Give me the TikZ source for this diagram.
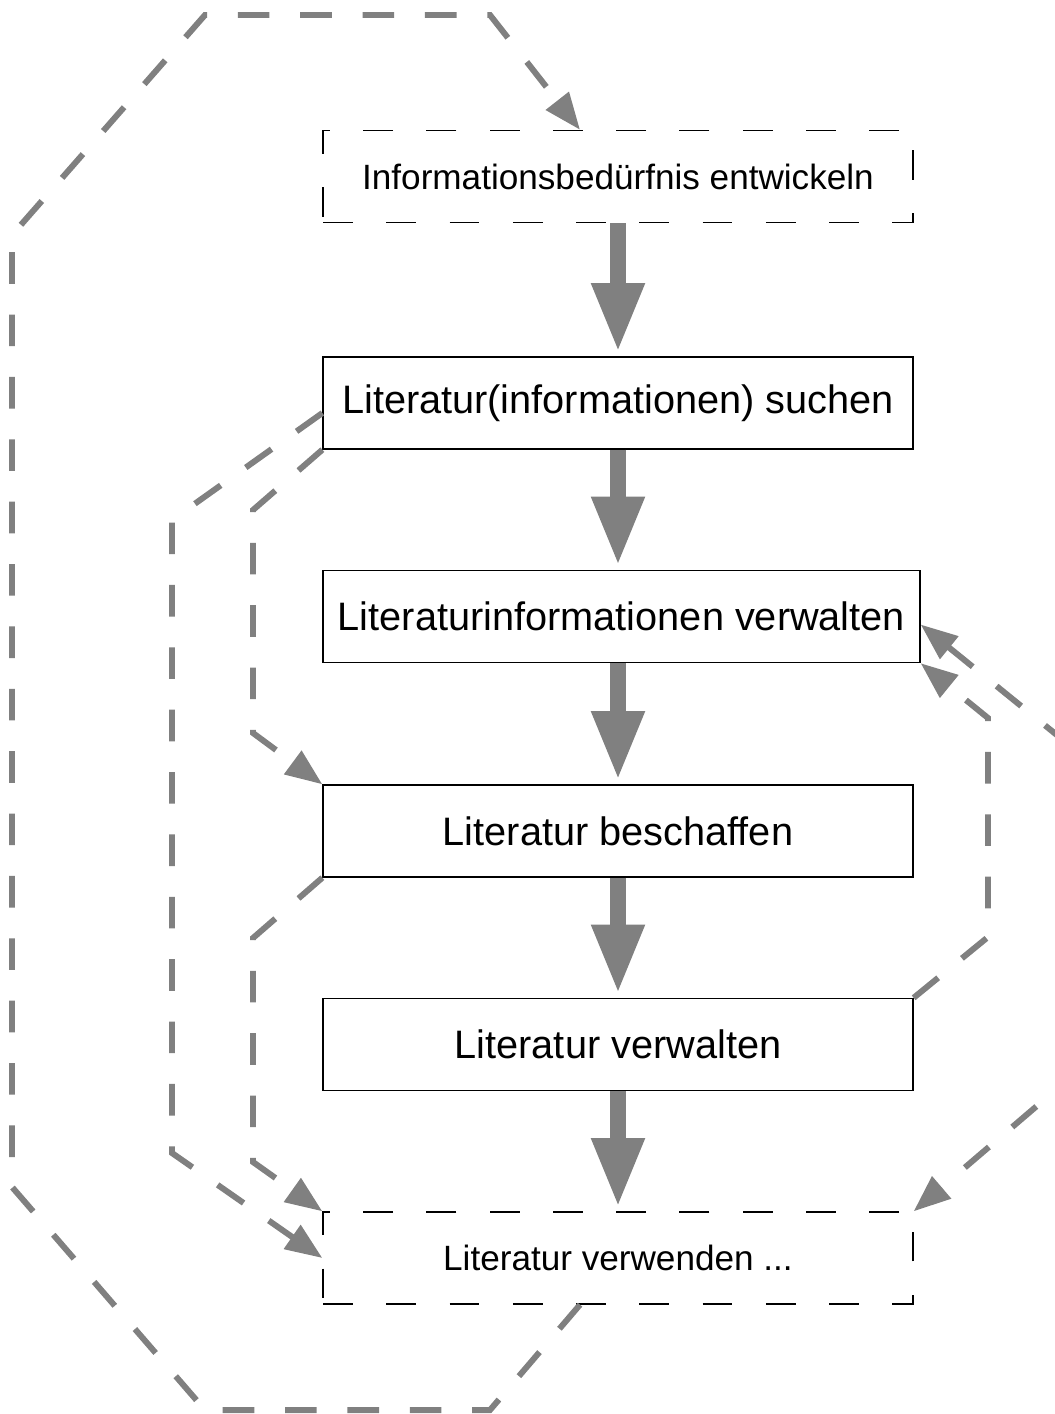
\documentclass[tikz,border=0pt]{standalone}
\usepackage{fontspec}
\setmainfont{Liberation Sans}
\usetikzlibrary{arrows.meta,calc}
\definecolor{flowgray}{RGB}{128,128,128}
\begin{document}
\begin{tikzpicture}[x=0.02cm,y=-0.02cm,
  box/.style={draw=black,line width=0.8pt,minimum width=11.8cm,minimum height=1.84cm,inner sep=0pt,font=\fontsize{22.6}{26}\selectfont},
  dbox/.style={box,dash pattern=on 17pt off 19pt,font=\fontsize{20}{24}\selectfont},
  flow/.style={draw=flowgray,line width=9.6pt,-{Triangle[width=27.8pt,length=39.7pt]},shorten >=2pt},
  loopline/.style={draw=flowgray,line width=3.4pt,dash pattern=on 18pt off 17.5pt,-{Triangle[width=16pt,length=21pt]}},
  loopboth/.style={loopline,{Triangle[width=16pt,length=21pt]}-{Triangle[width=16pt,length=21pt]}},
]
\useasboundingbox (0,0) rectangle (1055,1414);
\clip (0,0) rectangle (1055,1414);

\node[dbox] (b1) at (618,176.5) {Informationsbedürfnis entwickeln};
\node[box] (b2) at (618,403) {Literatur(informationen) suchen};
\node[box,minimum width=11.94cm] (b3) at (621.5,616.5) {Literaturinformationen verwalten};
\node[box] (b4) at (618,831) {Literatur beschaffen};
\node[box] (b5) at (618,1044.5) {Literatur verwalten};
\node[dbox] (b6) at (618,1258) {Literatur verwenden ...};

% main flow
\draw[flow] (b1.south) -- (b2.north);
\draw[flow] (b2.south) -- (b2.south |- b3.north);
\draw[flow] (b4.north |- b3.south) -- (b4.north);
\draw[flow] (b4.south) -- (b5.north);
\draw[flow] (b5.south) -- (b6.north);

% feedback loops
\draw[loopline] ($(b6.south)+(-38,0)$) -- (490,1410) -- (205,1410) -- (12,1187) -- (12,235) -- (205,15) -- (490,15) -- ($(b1.north)+(-38,0)$);
\draw[loopline] ($(b2.west)+(0,10)$) -- (172,520) -- (172,1153) -- (b6.west);
\draw[loopline] (b2.south west) -- (253,510) -- (253,733) -- (b4.north west);
\draw[loopline] (b4.south west) -- (253,938) -- (253,1162) -- (b6.north west);
\draw[loopline] (b5.north east) -- (988,937) -- (988,718) -- (b3.south east);
\draw[loopboth] ($(b3.east)+(0,8)$) -- (1100,770) -- (1100,1052) -- (b6.north east);
\end{tikzpicture}
\end{document}
